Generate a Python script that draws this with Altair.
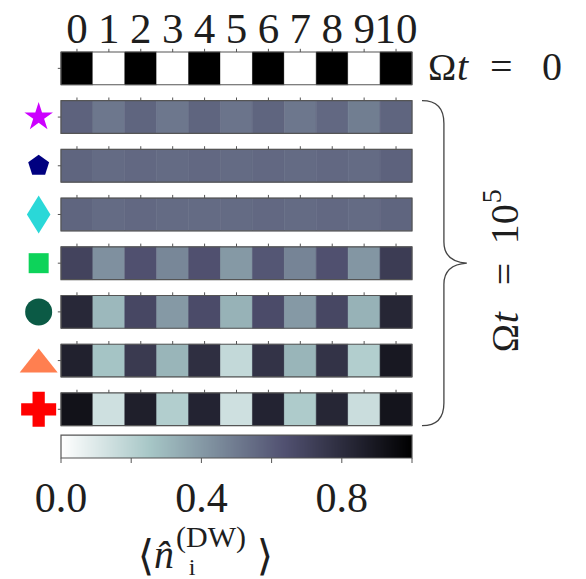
import math

import altair as alt
import pandas as pd

# ---------------------------------------------------------------------------
# Domain-wall occupation per site, one strip per run
# ---------------------------------------------------------------------------
SITES = list(range(11))
ROW_KEYS = ["t0", "star", "pentagon", "diamond", "square", "circle", "triangle", "cross"]

N_T0 = [1.0, 0.0, 1.0, 0.0, 1.0, 0.0, 1.0, 0.0, 1.0, 0.0, 1.0]
N_STAR = [0.58, 0.51, 0.57, 0.51, 0.57, 0.52, 0.57, 0.51, 0.56, 0.49, 0.57]
N_PENTAGON = [0.57, 0.55, 0.56, 0.55, 0.56, 0.55, 0.56, 0.55, 0.56, 0.55, 0.58]
N_DIAMOND = [0.57, 0.55, 0.56, 0.55, 0.55, 0.55, 0.56, 0.55, 0.56, 0.55, 0.57]
N_SQUARE = [0.70, 0.43, 0.64, 0.46, 0.64, 0.40, 0.62, 0.47, 0.64, 0.41, 0.73]
N_CIRCLE = [0.82, 0.30, 0.68, 0.40, 0.66, 0.32, 0.66, 0.40, 0.68, 0.32, 0.83]
N_TRIANGLE = [0.85, 0.26, 0.74, 0.31, 0.79, 0.17, 0.77, 0.31, 0.77, 0.22, 0.89]
N_CROSS = [0.92, 0.14, 0.86, 0.22, 0.84, 0.14, 0.84, 0.23, 0.83, 0.15, 0.91]

ALL_ROWS = [N_T0, N_STAR, N_PENTAGON, N_DIAMOND, N_SQUARE, N_CIRCLE, N_TRIANGLE, N_CROSS]

CBAR_TICKS = [0.0, 0.2, 0.4, 0.6, 0.8, 1.0]
CBAR_LABELS = ["0.0", "", "0.4", "", "0.8", ""]

# matplotlib "bone_r" knots (piecewise linear in RGB)
BONE_R_STOPS = [0.0, 0.253968, 0.634921, 1.0]
BONE_R_COLORS = ["#ffffff", "#a6c6c6", "#515171", "#000000"]

# ---------------------------------------------------------------------------
# Layout
# ---------------------------------------------------------------------------
W, H = 351, 406
PAD_L, PAD_T = 61, 52
HALF = 0.336            # half strip height, in row units
CB_TOP, CB_BOTTOM = 7.53, 8.0
PX_PER_ROW = H / (CB_BOTTOM + HALF)
TICK = 3.2 / PX_PER_ROW
CB_TICK = 5.0 / PX_PER_ROW
MARKER_X = -1.2
BRACE_X = 11.5
LATE_X = 13.3

SERIF = "Liberation Serif, Times New Roman, serif"
INK = "#1e1e1e"
FRAME = "#555555"


def polygon_path(n_points, radii, start_deg=-90.0):
    pts = []
    for k in range(n_points):
        a = math.radians(start_deg + 360.0 * k / n_points)
        r = radii[k % len(radii)]
        pts.append(f"{r * math.cos(a):.4f},{r * math.sin(a):.4f}")
    return "M" + "L".join(pts) + "Z"


STAR = polygon_path(10, [1.0, 0.382])
PENTAGON = polygon_path(5, [1.0])
THIN_DIAMOND = "M0,-1L0.62,0L0,1L-0.62,0Z"
SQUARE = "M-1,-1H1V1H-1Z"
WIDE_TRIANGLE = "M0,-0.63L1,0.63L-1,0.63Z"
PLUS = "M-0.35,-1H0.35V-0.35H1V0.35H0.35V1H-0.35V0.35H-1V-0.35H-0.35Z"

MARKER_STYLE = {
    "star": (STAR, "#cc00ff", 900),
    "pentagon": (PENTAGON, "#000080", 484),
    "diamond": (THIN_DIAMOND, "#2ad8d8", 1444),
    "square": (SQUARE, "#0dd35a", 400),
    "circle": ("circle", "#0b5a45", 729),
    "triangle": (WIDE_TRIANGLE, "#ff7f50", 1444),
    "cross": (PLUS, "#ff0000", 1225),
}

# curly brace spanning the late-time strips (unit box, scaled by mark size)
BRACE = ("M-0.135,-1Q0,-1 0,-0.86L0,-0.13Q0,-0.01 0.141,0"
         "Q0,0.01 0,0.13L0,0.86Q0,1 -0.135,1")

x_scale = alt.Scale(domain=[SITES[0] - 0.5, SITES[-1] + 0.5], nice=False, zero=False)
y_scale = alt.Scale(domain=[-HALF, CB_BOTTOM], reverse=True, nice=False, zero=False)
cb_scale = alt.Scale(domain=[CBAR_TICKS[0], CBAR_TICKS[-1]], nice=False, zero=False)
color_scale = alt.Scale(domain=BONE_R_STOPS, range=BONE_R_COLORS, interpolate="rgb")

cells_df = pd.DataFrame(
    [{"row": r, "site": s, "n": v}
     for r, vals in enumerate(ALL_ROWS) for s, v in zip(SITES, vals)]
)

cell_base = alt.Chart(cells_df).transform_calculate(
    x0="datum.site - 0.5",
    x1="datum.site + 0.5",
    y0=f"datum.row - {HALF}",
    y1=f"datum.row + {HALF}",
)

heat = cell_base.mark_rect(strokeWidth=0.6).encode(
    x=alt.X("x0:Q", scale=x_scale, axis=None),
    x2="x1:Q",
    y=alt.Y("y0:Q", scale=y_scale, axis=None),
    y2="y1:Q",
    color=alt.Color("n:Q", scale=color_scale, legend=None),
    stroke=alt.Stroke("n:Q", scale=color_scale, legend=None),
)

strip_extent = cell_base.transform_aggregate(
    x0="min(x0)", x1="max(x1)", groupby=["row"]
).transform_calculate(
    y0=f"datum.row - {HALF}",
    y1=f"datum.row + {HALF}",
    xt="datum.x0 - 0.1",
)

frames = strip_extent.mark_rect(fillOpacity=0, stroke=FRAME, strokeWidth=1.2).encode(
    x=alt.X("x0:Q", axis=None), x2="x1:Q",
    y=alt.Y("y0:Q", axis=None), y2="y1:Q",
)

left_ticks = strip_extent.mark_rule(color=FRAME, strokeWidth=1).encode(
    x=alt.X("x0:Q", axis=None), x2="xt:Q",
    y=alt.Y("row:Q", axis=None),
)

top_ticks = cell_base.transform_calculate(
    yt=f"datum.row - {HALF} - {TICK}"
).mark_rule(color=FRAME, strokeWidth=1).encode(
    x=alt.X("site:Q", axis=None),
    y=alt.Y("y0:Q", axis=None), y2="yt:Q",
)

# site numbers above the initial-state strip
site_labels = alt.Chart(pd.DataFrame({"site": SITES})).mark_text(
    font=SERIF, fontSize=43, color=INK, align="center", baseline="alphabetic", dy=-9,
).encode(
    x=alt.X("site:Q", axis=None),
    y=alt.Y(datum=-HALF, axis=None),
    text=alt.Text("site:Q", format="d"),
)

markers = []
for r, key in enumerate(ROW_KEYS):
    if key not in MARKER_STYLE:
        continue
    shape, fill, size = MARKER_STYLE[key]
    markers.append(
        alt.Chart(pd.DataFrame({"row": [r]})).mark_point(
            shape=shape, size=size, filled=True, color=fill, opacity=1, strokeWidth=0
        ).encode(
            x=alt.X(datum=MARKER_X, axis=None),
            y=alt.Y("row:Q", axis=None),
        )
    )

late_rows = [r for r, k in enumerate(ROW_KEYS) if k in MARKER_STYLE]
late_mid = (late_rows[0] + late_rows[-1]) / 2
brace_px = (late_rows[-1] - late_rows[0] + 2 * HALF) * PX_PER_ROW

brace = alt.Chart(pd.DataFrame({"row": [late_mid]})).mark_point(
    shape=BRACE, size=brace_px ** 2, filled=False, stroke="#444444",
    strokeWidth=1.3, opacity=1,
).encode(x=alt.X(datum=BRACE_X, axis=None), y=alt.Y("row:Q", axis=None))


def time_label(pieces, x_datum, row, base_dx, base_dy, angle=0):
    """Compose 'Ωt = ...' from roman / italic / superscript pieces."""
    layers = []
    for text, offset, size, style, raise_px in pieces:
        layers.append(
            alt.Chart(pd.DataFrame({"row": [row]})).mark_text(
                text=text, font=SERIF, fontSize=size, fontStyle=style, color=INK,
                align="left", baseline="alphabetic", angle=angle,
                dx=base_dx + offset, dy=base_dy - raise_px,
            ).encode(x=alt.X(datum=x_datum, axis=None), y=alt.Y("row:Q", axis=None))
        )
    return layers


label_t0 = time_label(
    [("Ω", 0, 38, "normal", 0), ("t", 29, 40, "italic", 0),
     ("=", 62, 40, "normal", 0), ("0", 114, 40, "normal", 0)],
    SITES[-1] + 0.5, 0, 16, 12,
)

late_start_px = 89
label_late = time_label(
    [("Ω", 0, 38, "normal", 0), ("t", 29, 40, "italic", 0),
     ("=", 67, 40, "normal", 0), ("10", 108, 40, "normal", 0),
     ("5", 149, 28, "normal", 17)],
    LATE_X, late_mid, -late_start_px, 17, angle=270,
)

main = alt.layer(
    heat, frames, top_ticks, left_ticks, site_labels, *markers, brace,
    *label_t0, *label_late,
)

# ---------------------------------------------------------------------------
# Colour bar
# ---------------------------------------------------------------------------
N_STEPS = 351
cbar_df = pd.DataFrame({"v0": [i / N_STEPS for i in range(N_STEPS)]})
cbar_df["v"] = cbar_df["v0"] + 0.5 / N_STEPS

cbar = alt.Chart(cbar_df).transform_calculate(
    v1=f"min(datum.v0 + {1.8 / N_STEPS}, 1)"
).mark_rect(strokeWidth=0).encode(
    x=alt.X("v0:Q", scale=cb_scale, axis=None),
    x2="v1:Q",
    y=alt.Y(datum=CB_TOP, scale=y_scale, axis=None),
    y2=alt.Y2(datum=CB_BOTTOM),
    color=alt.Color("v:Q", scale=color_scale, legend=None),
)

one = pd.DataFrame({"k": [0]})
cbar_frame = alt.Chart(one).mark_rect(fillOpacity=0, stroke=FRAME, strokeWidth=1.2).encode(
    x=alt.X(datum=CBAR_TICKS[0], axis=None), x2=alt.X2(datum=CBAR_TICKS[-1]),
    y=alt.Y(datum=CB_TOP, axis=None), y2=alt.Y2(datum=CB_BOTTOM),
)

cbar_tick_df = pd.DataFrame({"v": CBAR_TICKS, "label": CBAR_LABELS})
cbar_ticks = alt.Chart(cbar_tick_df).mark_rule(color=FRAME, strokeWidth=1).encode(
    x=alt.X("v:Q", axis=None),
    y=alt.Y(datum=CB_BOTTOM, axis=None),
    y2=alt.Y2(datum=CB_BOTTOM + CB_TICK),
)
cbar_labels = alt.Chart(cbar_tick_df).mark_text(
    font=SERIF, fontSize=42, color=INK, align="center", baseline="alphabetic", dy=54,
).encode(
    x=alt.X("v:Q", axis=None),
    y=alt.Y(datum=CB_BOTTOM, axis=None),
    text="label:N",
)


def cbar_title_piece(text, dx, dy, size, baseline="alphabetic", style="normal",
                     font=SERIF, align="center"):
    return alt.Chart(one).mark_text(
        text=text, dx=dx, dy=dy, fontSize=size, font=font, fontStyle=style,
        baseline=baseline, align=align, color=INK,
    ).encode(
        x=alt.X(datum=CBAR_TICKS[0], axis=None),
        y=alt.Y(datum=CB_BOTTOM, axis=None),
    )


cbar_title = [
    cbar_title_piece("⟨", 85, 99, 42, baseline="middle", font="DejaVu Serif"),
    cbar_title_piece("n̂", 103, 110, 40, style="italic"),
    cbar_title_piece("(DW)", 115, 89, 30, align="left"),
    cbar_title_piece("i", 131, 117, 24),
    cbar_title_piece("⟩", 204, 99, 42, baseline="middle", font="DejaVu Serif"),
]

colorbar = alt.layer(cbar, cbar_frame, cbar_ticks, cbar_labels, *cbar_title)

chart = alt.layer(main, colorbar).resolve_scale(x="independent").properties(
    width=W,
    height=H,
    autosize=alt.AutoSizeParams(type="none"),
    padding={"left": PAD_L, "top": PAD_T, "right": 586 - PAD_L - W, "bottom": 579 - PAD_T - H},
    background="white",
).configure_view(stroke=None)

chart.save("out.html", embed_options={"renderer": "svg", "actions": False})
